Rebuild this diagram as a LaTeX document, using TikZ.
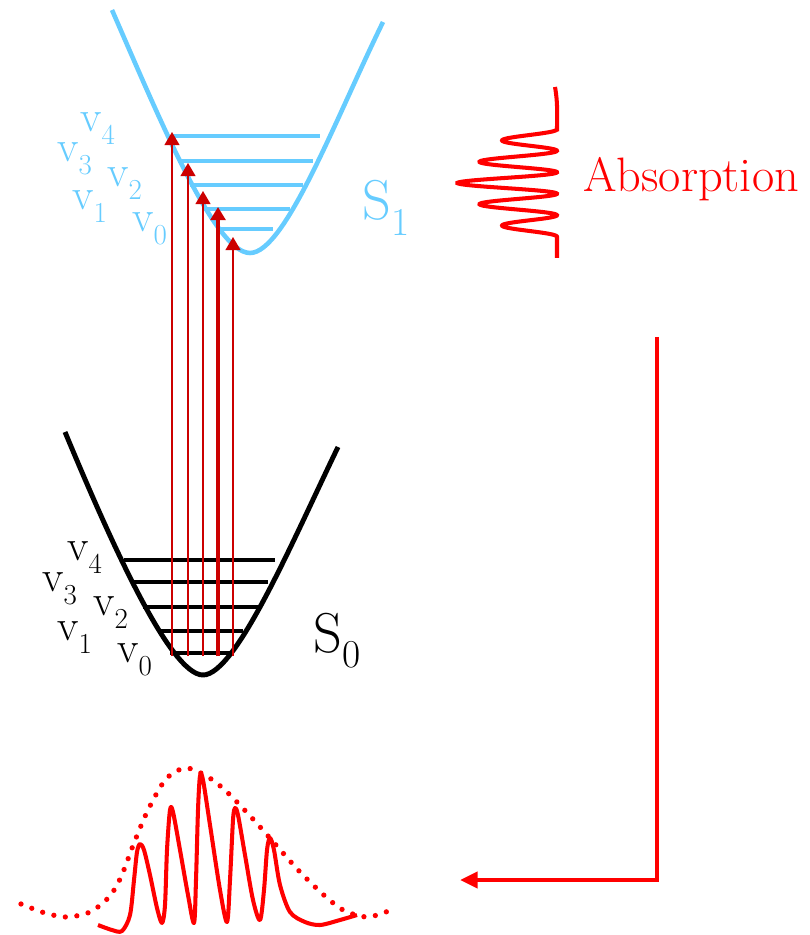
\documentclass[tikz,border=0pt]{standalone}
\usepackage{tikz}
\usepackage{xcolor}
\usetikzlibrary{arrows.meta}

\definecolor{sone}{HTML}{66CCFF}
\definecolor{darkred}{HTML}{CC0000}

\newcommand{\vlev}[1]{v\raisebox{-7.4pt}{\fontsize{16.5}{19}\selectfont #1}}
\newcommand{\slev}[1]{S\raisebox{-8.8pt}{\fontsize{22.5}{26}\selectfont #1}}

\begin{document}
\begin{tikzpicture}[x=0.02cm, y=-0.02cm,
  vlabel/.style={inner sep=0pt, anchor=base west, font=\fontsize{25}{30}\selectfont},
  slabel/.style={inner sep=0pt, anchor=base west, font=\fontsize{32}{38}\selectfont},
  vibline/.style={line width=2.6pt},
  excite/.style={draw=darkred, line width=1.1pt, -{Triangle[length=7.5pt, width=8.5pt]}},
  wave/.style={red, line width=2.3pt}]
\useasboundingbox (0,0) rectangle (809,935);

% excited state S1
\draw[sone, line width=2.6pt] (112,10) .. controls (160,120) and (215,253) .. (250,253)
  .. controls (285,253) and (335,120) .. (383,22);
\foreach \ly/\xl/\xr in {136/173/320, 161/178/313, 185/190/303, 209/203/290, 229/217/273}
  \draw[sone, vibline] (\xl,\ly) -- (\xr,\ly);

\node[vlabel, text=sone] (uv4) at (80,132) {\vlev{4}};
\node[vlabel, text=sone] (uv3) at (57,162) {\vlev{3}};
\node[vlabel, text=sone] (uv2) at (107,187) {\vlev{2}};
\node[vlabel, text=sone] (uv1) at (72,210) {\vlev{1}};
\node[vlabel, text=sone] (uv0) at (132,232) {\vlev{0}};
\node[slabel, text=sone] (sone) at (362,220) {\slev{1}};

% ground state S0
\draw[black, line width=2.8pt] (65,432) .. controls (110,540) and (170,675) .. (203,675)
  .. controls (236,675) and (293,540) .. (338,447);
\foreach \ly/\xl/\xr in {560/124/275, 582/133/268, 607/143/260, 631/158/243, 653/170/233}
  \draw[black, vibline] (\xl,\ly) -- (\xr,\ly);

\node[vlabel] (lv4) at (67,560) {\vlev{4}};
\node[vlabel] (lv3) at (42,591) {\vlev{3}};
\node[vlabel] (lv2) at (93,615) {\vlev{2}};
\node[vlabel] (lv1) at (57,640) {\vlev{1}};
\node[vlabel] (lv0) at (117,662) {\vlev{0}};
\node[slabel] (szero) at (313,652) {\slev{0}};

% transitions
\foreach \i/\x/\ty in {1/172/132, 2/188/163, 3/203/191, 4/218/207, 5/233/237} {
  \coordinate (foot\i) at (\x,656);
  \coordinate (tip\i) at (\x,\ty);
}
\foreach \i in {1,2,3,5}
  \draw[excite] (foot\i) -- (tip\i);
\draw[excite, line width=2pt] (foot4) -- (tip4);

% light
\draw[wave] (555,87) to[out=-80, in=90] (557,129.25)
  -- plot[domain=129.25:236.75, samples=240, variable=\t]
  ({557-100*(1-abs(\t-183)/95)*(1+cos(16.744*(\t-183)))/2}, \t)
  -- (557,258);
\node[red, anchor=base west, inner sep=0pt, font=\fontsize{27.5}{33}\selectfont] (absorb) at (583,192) {Absorption};

\coordinate (emtop) at (657,337);
\coordinate (emtip) at (460,880);
\draw[red, line width=2.8pt, -{Triangle[length=10pt, width=9pt]}] (emtop) |- (emtip);

% spectrum
\draw[red, line width=3pt, line cap=round, dash pattern=on 0pt off 6.6pt] plot[smooth] coordinates {(21,904) (45,913) (67,917) (90,912) (109,897) (121,877) (134,843) (148,810) (166,779) (186,768) (208,777) (227,792) (252,818) (276,845) (300,872) (326,897) (345,911) (368,917) (391,910)};
\draw[wave, line join=round] plot[smooth, tension=0.5] coordinates {(98,925) (112,930) (122,931) (130,915) (134,880) (137,852) (140,844) (144,850) (150,875) (157,908) (162,923) (165,905) (167,850) (170,810) (173,812) (180,850) (188,895) (194,923) (196,880) (198,810) (200,776) (203,780) (210,825) (220,890) (227,922) (230,880) (233,820) (235,808) (238,815) (245,855) (253,900) (260,920) (264,890) (267,850) (270,838) (274,850) (280,885) (290,912) (305,922) (320,925) (340,920) (357,915)};
\end{tikzpicture}
\end{document}
